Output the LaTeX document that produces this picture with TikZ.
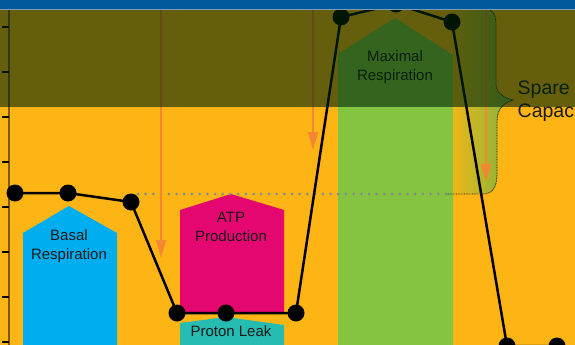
\documentclass[tikz,border=0pt]{standalone}
\usepackage{fontspec}
\setmainfont{Liberation Sans}
\usetikzlibrary{arrows.meta}
\definecolor{bgorange}{HTML}{FDB515}
\definecolor{mgreen}{HTML}{84C441}
\definecolor{bcyan}{HTML}{00AEEF}
\definecolor{amag}{HTML}{E3076F}
\definecolor{pteal}{HTML}{26BCB1}
\definecolor{arroworange}{HTML}{F58632}
\definecolor{dotgray}{HTML}{858A92}
\definecolor{shadecol}{RGB}{0,36,6}
\definecolor{bandblue}{HTML}{00599A}
\definecolor{bandline}{HTML}{7D9DB5}
\definecolor{txt}{HTML}{1A1A1A}
\tikzset{
  lbl/.style={text=txt, align=center, font=\fontsize{15}{19}\selectfont, inner sep=0pt},
  bigl/.style={text=txt, align=left, font=\fontsize{19.5}{23}\selectfont, inner sep=0pt, anchor=west},
  dot/.style={circle, fill=black, minimum size=17pt, inner sep=0pt},
  dataline/.style={line width=2.5pt, black},
  inj/.style={arroworange, line width=2pt, -{Triangle[length=18pt,width=10pt]}},
  basalline/.style={dotgray, line width=3pt, line cap=round, dash pattern=on 0pt off 7.7pt},
  bracestyle/.style={black!90, line width=0.8pt, dash pattern=on 0.8pt off 0.8pt},
}
\begin{document}
\begin{tikzpicture}[x=1pt,y=-1pt]
\useasboundingbox (0,0) rectangle (575,345);
\clip (0,0) rectangle (575,345);
% background
\fill[bgorange] (0,0) rectangle (575,345);
% maximal respiration column
\fill[mgreen] (338,350) -- (338,54) -- (395,18) -- (453,55) -- (453,350) -- cycle;
% spare capacity region
\shade[left color=bgorange!88!mgreen, right color=mgreen!92!black]
  (453,8) -- (490,8) .. controls (495,12) and (496,18) .. (496,26) -- (496,84)
  .. controls (496,94) and (505,98) .. (513,100)
  .. controls (504,103) and (497,108) .. (497,122) -- (497,174)
  .. controls (497,186) and (493,193.5) .. (483,193.5) -- (453,193.5) -- cycle;
\draw[bracestyle]
  (490,10) .. controls (495,12) and (496,18) .. (496,26) -- (496,84)
  .. controls (496,94) and (505,98) .. (513,100)
  .. controls (504,103) and (497,108) .. (497,122) -- (497,174)
  .. controls (497,186) and (493,194) .. (483,194) -- (447,194);
% basal respiration
\fill[bcyan] (23,350) -- (23,233) -- (69,206) -- (117,233) -- (117,350) -- cycle;
% ATP production
\fill[amag] (180,313) -- (180,210) -- (231,194) -- (284,210) -- (284,313) -- cycle;
% proton leak
\fill[pteal] (180,350) -- (180,323) -- (226,317) -- (284,325) -- (284,350) -- cycle;
% basal dotted line
\coordinate (bl1) at (138,194);
\coordinate (bl2) at (452,194);
\draw[basalline] (bl1) -- (bl2);
% axis
\coordinate (ax1) at (9,-2);
\coordinate (ax2) at (9,350);
\draw[black, opacity=0.5, line width=2pt] (ax1) -- (ax2);
\foreach \t in {27,72,117,162,207,252,297,342}{
  \draw[black, line width=1.3pt] (2,\t) -- (9,\t);
}
% injection arrows
\coordinate (a1s) at (161,8);  \coordinate (a1e) at (161,258);
\coordinate (a2s) at (313,8);  \coordinate (a2e) at (313,150);
\coordinate (a3s) at (486,8);  \coordinate (a3e) at (486,182);
\draw[inj] (a1s) -- (a1e);
\draw[inj] (a2s) -- (a2e);
\draw[inj] (a3s) -- (a3e);
% labels
\node[lbl] (basal) at (69,246.5) {Basal\\Respiration};
\node[lbl] (atp) at (231,226.5) {ATP\\Production};
\node[lbl] (leak) at (231,331.5) {Proton Leak};
\node[lbl] (maxr) at (395,67.5) {Maximal\\Respiration};
\node[bigl] (spare) at (517.5,101.5) {Spare\\Capacity};
% data
\node[dot] (p1) at (15,193) {};
\node[dot] (p2) at (68,193) {};
\node[dot] (p3) at (131,202) {};
\node[dot] (p4) at (177,313) {};
\node[dot] (p5) at (226,313) {};
\node[dot] (p6) at (296,313) {};
\node[dot] (p7) at (341,17) {};
\node[dot] (p8) at (396,4) {};
\node[dot] (p9) at (452,22) {};
\node[dot] (p10) at (507,346) {};
\node[dot] (p11) at (557,346) {};
\draw[dataline] (p1.center) -- (p2.center) -- (p3.center) -- (p4.center) -- (p5.center) -- (p6.center) -- (p7.center) -- (p8.center) -- (p9.center) -- (p10.center) -- (p11.center);
% dark overlay
\fill[shadecol, fill opacity=0.6] (0,10.5) rectangle (575,107);
% top band
\fill[bandblue] (0,-1) rectangle (575,9.5);
\draw[bandline, line width=1pt] (0,10) -- (575,10);
\end{tikzpicture}
\end{document}
